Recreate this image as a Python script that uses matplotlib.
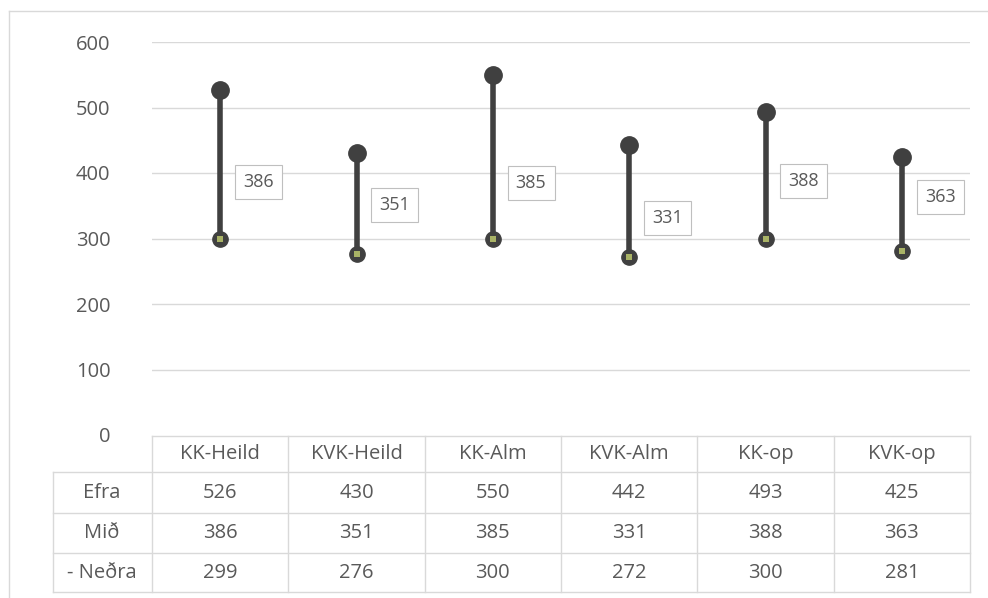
import matplotlib
matplotlib.use("Agg")
import matplotlib.pyplot as plt
from matplotlib.lines import Line2D
import numpy as np

# data
categories = ["KK-Heild", "KVK-Heild", "KK-Alm", "KVK-Alm", "KK-op", "KVK-op"]
efra = [526, 430, 550, 442, 493, 425]
mid = [386, 351, 385, 331, 388, 363]
nedra = [299, 276, 300, 272, 300, 281]
row_names = ["Efra", "Mið", "- Neðra"]
yticks = [0, 100, 200, 300, 400, 500, 600]

W, H = 988, 598
txt = "#595959"
grid = "#d9d9d9"
dark = "#404040"
plt.rcParams['font.family'] = ['Open Sans', 'DejaVu Sans']

fig = plt.figure(figsize=(W / 100, H / 100), dpi=100)

def fx(px):
    return px / W

def fy(py):
    return 1 - py / H

# plot area: x 152..970, y 42 (600) .. 435 (0)
ax = fig.add_axes([fx(152), fy(435), fx(970) - fx(152), fy(42) - fy(435)])
x = np.arange(len(categories))
ax.set_xlim(-0.5, len(categories) - 0.5)
ax.set_ylim(0, 600)
for s in ax.spines.values():
    s.set_visible(False)
ax.set_xticks([])
ax.set_yticks(yticks)
ax.set_yticklabels([str(t) for t in yticks], color=txt, fontsize=14.5)
ax.tick_params(axis='y', length=0, pad=30)
for t in yticks[1:]:
    ax.axhline(t, color=grid, lw=1, zorder=0)

ax.vlines(x, nedra, efra, color=dark, lw=4, zorder=2)
ax.plot(x, efra, 'o', color=dark, ms=12.5, zorder=3)
ax.plot(x, nedra, 'o', color=dark, ms=11, zorder=3)
ax.plot(x, nedra, 's', color="#a9b366", ms=4, mew=0, zorder=4)

for xi, m in zip(x, mid):
    ax.annotate(str(m), (xi, m), xytext=(16.5, 0), textcoords='offset points',
                ha='left', va='center', fontsize=13, color=txt,
                bbox=dict(boxstyle='square,pad=0.45', fc='white', ec="#bfbfbf", lw=0.8),
                zorder=5)

# data table below the axis
col_edges = np.linspace(152, 970, len(categories) + 1)
row_edges = [436, 472, 513, 553, 592]

def hline(y, x0, x1):
    fig.add_artist(Line2D([fx(x0), fx(x1)], [fy(y), fy(y)], color=grid, lw=1))

def vline(xp, y0, y1):
    fig.add_artist(Line2D([fx(xp), fx(xp)], [fy(y0), fy(y1)], color=grid, lw=1))

hline(row_edges[0], 152, 970)
for y in row_edges[1:]:
    hline(y, 53, 970)
vline(53, row_edges[1], row_edges[-1])
for xp in col_edges:
    vline(xp, row_edges[0], row_edges[-1])

centers = (col_edges[:-1] + col_edges[1:]) / 2
rmid = [(row_edges[i] + row_edges[i + 1]) / 2 for i in range(len(row_edges) - 1)]
for c, name in zip(centers, categories):
    fig.text(fx(c), fy(rmid[0]), name, ha='center', va='center', fontsize=14.5, color=txt)
for r, (name, vals) in enumerate(zip(row_names, [efra, mid, nedra])):
    yy = fy(rmid[r + 1])
    fig.text(fx(102), yy, name, ha='center', va='center', fontsize=14.5, color=txt)
    for c, v in zip(centers, vals):
        fig.text(fx(c), yy, str(v), ha='center', va='center', fontsize=14.5, color=txt)

# outer frame (top and left edge visible)
fig.add_artist(Line2D([fx(9), fx(9)], [fy(11), 0], color=grid, lw=1))
fig.add_artist(Line2D([fx(9), 1], [fy(11), fy(11)], color=grid, lw=1))

fig.savefig("out.png", dpi=100)
